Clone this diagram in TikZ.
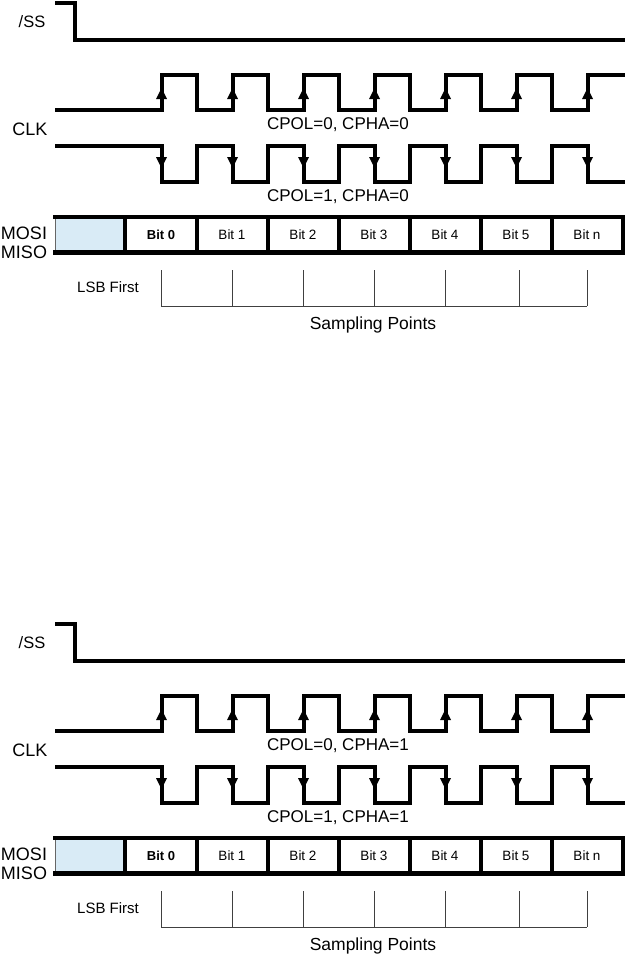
\documentclass[tikz,border=0pt]{standalone}
\usepackage{fontspec}
\setmainfont{Liberation Sans}
\definecolor{busblue}{RGB}{217,235,246}
\newcommand{\spidiagram}[3]{%
\begin{scope}[yshift=-#1pt]
  % /SS
  \node[lbl, font=\fontsize{16.5}{17}\selectfont] (#2ss) at (32,22) {/SS};
  \draw[wave] (55,3) -- (75,3) -- (75,40) -- (625,40);
  % CLK label
  \node[lbl] (#2clk) at (30,129) {CLK};
  % CPOL=0
  \draw[wave] (55,110) foreach \i in {0,...,5} { -- ({161.5+71*\i},110) -- ({161.5+71*\i},75) -- ({197+71*\i},75) -- ({197+71*\i},110) } -- (587.5,110) -- (587.5,75) -- (625,75);
  \foreach \i in {0,...,6} {
    \fill ({161.5+71*\i-5.5},99) -- ({161.5+71*\i+5.5},99) -- ({161.5+71*\i},88) -- cycle;
  }
  % CPOL=1
  \draw[wave] (55,146) foreach \i in {0,...,5} { -- ({161.5+71*\i},146) -- ({161.5+71*\i},182) -- ({197+71*\i},182) -- ({197+71*\i},146) } -- (587.5,146) -- (587.5,182) -- (625,182);
  \foreach \i in {0,...,6} {
    \fill ({161.5+71*\i-5.5},157) -- ({161.5+71*\i+5.5},157) -- ({161.5+71*\i},168) -- cycle;
  }
  \node[mode] (#2m0) at (338,125) {CPOL=0, CPHA=#3};
  \node[mode] (#2m1) at (338,197) {CPOL=1, CPHA=#3};
  % bus
  \fill[busblue] (55,217) rectangle (125,252);
  \draw[line width=1pt, black!60] (55,217) -- (55,252);
  \draw[line width=4pt] (53,217) -- (625,217);
  \draw[line width=4.5pt] (53,252.5) -- (625,252.5);
  \foreach \x in {125,197,268,339,410,481,552,623} {
    \draw[line width=4pt] (\x,217) -- (\x,252.5);
  }
  \node[lbl] (#2mosi) at (24,233) {MOSI};
  \node[lbl] (#2miso) at (24,252.5) {MISO};
  \node[bit, font=\fontsize{13}{13}\selectfont\bfseries] (#2b0) at (161,235) {Bit 0};
  \foreach \t/\x [count=\k] in {1/232,2/303,3/374,4/445,5/516,n/587} {
    \node[bit] (#2b\k) at (\x,235) {Bit \t};
  }
  % sampling points
  \foreach \x in {161,232,303,374,445,519,587} {
    \draw[samp] (\x,270) -- (\x,306);
  }
  \draw[samp] (161,306) -- (587,306);
  \node[lbl, font=\fontsize{15}{15}\selectfont] (#2lsb) at (108,287) {LSB First};
  \node[lbl, font=\fontsize{17.5}{18}\selectfont] (#2sp) at (373,325) {Sampling Points};
\end{scope}%
}
\begin{document}
\begin{tikzpicture}[x=1pt, y=-1pt,
  wave/.style={line width=4pt, line join=miter, line cap=butt},
  samp/.style={line width=1pt, black!75},
  lbl/.style={inner sep=0pt, font=\fontsize{18}{18}\selectfont},
  mode/.style={inner sep=0pt, font=\fontsize{17}{17}\selectfont},
  bit/.style={inner sep=0pt, font=\fontsize{13.5}{14}\selectfont}]
\useasboundingbox (0,0) rectangle (625,956);
\spidiagram{0}{a}{0}
\spidiagram{621}{b}{1}
\end{tikzpicture}
\end{document}
